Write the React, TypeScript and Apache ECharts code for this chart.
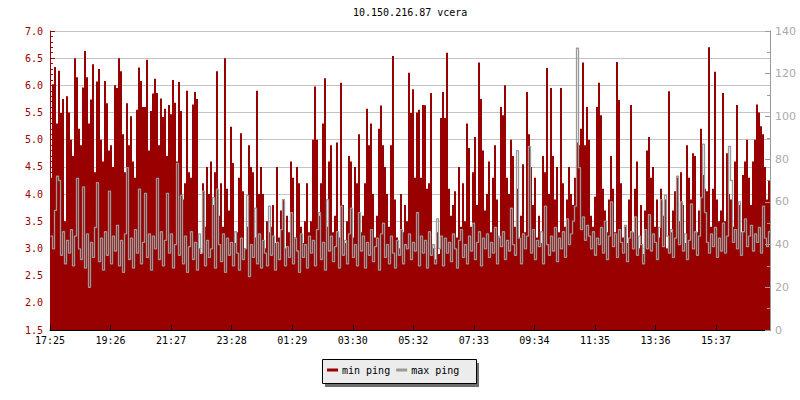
import { useEffect, useRef } from "react";
import * as echarts from "echarts";

const TITLE = "10.150.216.87 vcera";
const SERIES_NAMES = ["min ping", "max ping"];
const X_TICK_LABELS = ["17:25", "19:26", "21:27", "23:28", "01:29", "03:30", "05:32", "07:33", "09:34", "11:35", "13:36", "15:37"];
const STEP_MINUTES = 4;
const TICK_STEP_MINUTES = 121.1;

// left axis (1.5 – 7.0), one value every 4 minutes from 17:25
const MIN_PING = [
  4.3, 6.02, 6.34, 5.3, 6.27, 5.49, 5.75, 3.5, 5.8, 5.5,
  5.0, 4.7, 6.5, 6.15, 5.2, 4.9, 5.96, 6.63, 6.15, 5.3,
  5.74, 6.39, 4.4, 6.07, 6.3, 5.0, 4.6, 6.08, 5.67, 4.8,
  4.9, 4.5, 6.0, 5.95, 6.5, 6.26, 5.1, 4.4, 5.67, 4.9,
  5.43, 4.6, 4.3, 5.55, 6.33, 6.08, 5.6, 5.6, 6.47, 4.8,
  5.53, 5.85, 6.12, 5.86, 4.9, 5.76, 5.42, 5.57, 4.7, 5.64,
  5.47, 6.1, 5.68, 4.6, 6.06, 5.53, 3.9, 4.2, 5.9, 4.4,
  4.3, 5.65, 5.88, 5.75, 3.0, 2.9, 4.2, 3.4, 4.5, 4.0,
  4.6, 3.8, 4.4, 6.26, 3.6, 4.2, 3.4, 6.5, 4.1, 3.7,
  5.24, 4.57, 3.1, 3.3, 4.3, 5.12, 4.05, 3.0, 3.4, 4.9,
  4.5, 4.4, 3.2, 5.9, 4.0, 4.5, 4.0, 3.0, 3.5, 3.3,
  3.4, 3.8, 3.1, 4.5, 3.2, 3.7, 3.9, 3.0, 3.6, 3.3,
  4.6, 4.3, 3.2, 4.5, 4.2, 3.4, 3.1, 3.5, 4.2, 3.3,
  3.5, 5.0, 5.98, 5.0, 3.6, 4.2, 5.3, 6.13, 3.4, 4.6,
  4.9, 3.3, 3.6, 4.95, 3.2, 6.05, 3.8, 3.1, 3.5, 4.7,
  4.6, 3.2, 4.5, 4.2, 5.1, 3.3, 3.6, 4.2, 5.57, 4.9,
  5.3, 4.0, 3.2, 3.6, 5.2, 5.63, 4.9, 4.5, 4.0, 3.4,
  4.9, 6.54, 3.9, 3.2, 3.0, 4.0, 3.3, 3.8, 3.5, 6.23,
  5.49, 5.93, 4.3, 5.5, 5.55, 4.3, 5.64, 5.63, 4.1, 4.2,
  5.86, 3.0, 2.8, 3.3, 2.9, 5.4, 5.88, 5.4, 6.6, 4.1,
  3.6, 3.8, 4.05, 3.2, 4.5, 3.4, 4.2, 3.5, 5.3, 4.85,
  3.4, 4.4, 5.05, 3.8, 6.42, 5.75, 4.8, 3.7, 4.0, 4.6,
  3.3, 4.3, 4.9, 3.9, 3.2, 5.6, 5.45, 6.0, 4.3, 4.0,
  5.0, 4.7, 3.4, 4.1, 3.2, 3.6, 4.55, 3.3, 5.88, 5.1,
  4.5, 3.8, 4.3, 3.2, 3.6, 3.1, 4.7, 4.4, 6.32, 4.0,
  5.95, 4.7, 3.9, 4.5, 3.3, 5.95, 4.2, 3.4, 3.9, 4.5,
  4.0, 3.8, 4.3, 4.95, 4.9, 5.2, 6.42, 4.9, 5.6, 5.0,
  3.6, 3.4, 3.95, 5.6, 6.05, 5.45, 4.1, 3.7, 3.3, 3.9,
  4.7, 4.1, 3.3, 6.43, 5.73, 4.2, 3.2, 3.4, 3.1, 3.9,
  5.64, 3.3, 4.1, 4.6, 3.0, 3.8, 2.9, 3.7, 4.8, 5.05,
  4.3, 4.5, 3.4, 3.9, 3.2, 4.1, 3.6, 3.9, 3.0, 5.89,
  3.3, 3.7, 4.05, 4.3, 3.5, 4.4, 3.8, 3.1, 4.9, 4.3,
  3.9, 4.75, 4.7, 3.3, 3.7, 5.2, 4.35, 4.1, 4.05, 6.7,
  3.4, 4.1, 6.25, 3.9, 3.5, 3.7, 5.86, 3.5, 4.75, 4.0,
  3.9, 3.4, 4.6, 5.64, 3.8, 3.3, 4.35, 4.6, 5.0, 4.3,
  3.8, 4.6, 5.0, 5.65, 5.5, 5.25, 5.1, 4.5, 3.9, 4.25,
];

// right axis (0 – 140), same time steps
const MAX_PING = [
  44, 38, 56, 72, 70, 35, 46, 31, 42, 36,
  47, 30, 44, 71, 38, 33, 67, 29, 45, 20,
  41, 34, 48, 69, 32, 43, 28, 46, 35, 65,
  31, 44, 37, 49, 30, 42, 27, 45, 76, 33,
  43, 29, 47, 36, 66, 31, 41, 64, 34, 45,
  28, 44, 38, 71, 33, 46, 30, 42, 64, 36,
  45, 29, 40, 78, 35, 63, 31, 44, 27, 39,
  46, 33, 41, 28, 45, 36, 65, 30, 42, 34,
  38, 62, 29, 66, 40, 32, 45, 27, 43, 35,
  41, 30, 46, 36, 28, 43, 33, 38, 63, 25,
  40, 34, 57, 31, 45, 29, 42, 36, 30, 58,
  35, 44, 28, 41, 33, 47, 61, 30, 39, 34,
  55, 31, 43, 37, 27, 45, 34, 40, 29, 44,
  36, 42, 30, 47, 55, 33, 41, 28, 61, 37,
  44, 32, 39, 46, 29, 58, 35, 42, 31, 45,
  57, 34, 40, 30, 55, 37, 44, 29, 41, 35,
  47, 32, 39, 43, 28, 45, 50, 34, 40, 31,
  44, 36, 29, 42, 35, 47, 31, 40, 38, 45,
  33, 41, 37, 55, 30, 44, 36, 42, 29, 46,
  35, 40, 31, 52, 38, 44, 30, 43, 36, 41,
  32, 45, 38, 29, 42, 47, 34, 40, 31, 44,
  37, 50, 33, 41, 46, 30, 43, 38, 45, 34,
  41, 36, 48, 31, 44, 39, 46, 33, 42, 37,
  57, 40, 35, 84, 43, 31, 45, 38, 44, 86,
  36, 47, 33, 42, 39, 46, 31, 58, 40, 35,
  44, 37, 48, 32, 43, 38, 46, 34, 52, 40,
  45, 51, 58, 132, 76, 47, 53, 42, 49, 44,
  38, 46, 35, 43, 40, 48, 36, 51, 33, 44,
  60, 39, 45, 34, 47, 41, 36, 49, 32, 43,
  46, 38, 53, 35, 44, 40, 31, 47, 38, 54,
  37, 45, 41, 33, 48, 61, 39, 63, 44, 36,
  47, 34, 43, 72, 40, 60, 37, 45, 33, 42,
  59, 38, 46, 35, 44, 62, 87, 55, 41, 36,
  45, 39, 48, 34, 43, 37, 50, 36, 44, 86,
  70, 41, 47, 38, 60, 35, 46, 52, 39, 44,
  49, 37, 45, 41, 48, 36, 58, 43, 39, 46,
];

const MONO = "DejaVu Sans Mono";
const RED = "#990000";
const GREY = "#9a9a9a";

export default function App() {
  const ref = useRef<HTMLDivElement>(null);
  useEffect(() => {
    const chart = echarts.init(ref.current!, null, { renderer: "svg" });
    // offset (minutes) places each sample's step edge on a pixel centre
    const toSteps = (arr: number[], offset: number) => {
      const d = arr.map((v, i) => [i * STEP_MINUTES + offset, v]);
      d.push([arr.length * STEP_MINUTES, arr[arr.length - 1]]);
      return d;
    };
    const minData = toSteps(MIN_PING, 0);
    const maxData = toSteps(MAX_PING, 1);
    const xMax = MIN_PING.length * STEP_MINUTES;
    const tickValues = X_TICK_LABELS.map((_, i) => i * TICK_STEP_MINUTES);
    chart.setOption({
      animation: false,
      backgroundColor: "#ffffff",
      title: {
        text: TITLE,
        left: 353,
        top: 7,
        padding: 0,
        textStyle: { fontFamily: MONO, fontSize: 10, fontWeight: "normal", color: "#000" },
      },
      grid: { left: 50, right: 30, top: 31, bottom: 70 },
      legend: {
        data: SERIES_NAMES,
        left: 327,
        top: 365,
        padding: 0,
        itemWidth: 11,
        itemHeight: 3,
        itemGap: 6,
        icon: "rect",
        z: 10,
        textStyle: { fontFamily: MONO, fontSize: 10, color: "#000", padding: [0, 0, 0, -1] },
      },
      graphic: [
        { type: "rect", z: 1, shape: { x: 325, y: 363, width: 154, height: 24 }, style: { fill: "#6e6e6e" } },
        { type: "rect", z: 2, shape: { x: 322.5, y: 359.5, width: 154, height: 24 }, style: { fill: "#ececec", stroke: "#000", lineWidth: 1 } },
      ],
      xAxis: {
        type: "value",
        min: 0,
        max: xMax,
        z: 10,
        axisLine: { show: true, lineStyle: { color: "#000", width: 1 } },
        axisTick: { show: true, inside: true, length: 5, customValues: tickValues, lineStyle: { color: "#000" } },
        axisLabel: {
          customValues: tickValues,
          formatter: (v: number) => X_TICK_LABELS[Math.round(v / TICK_STEP_MINUTES)] ?? "",
          color: "#000",
          fontFamily: MONO,
          fontSize: 10,
          margin: 5,
        },
        splitLine: { show: false },
      },
      yAxis: [
        {
          type: "value",
          min: 1.5,
          max: 7,
          interval: 0.5,
          position: "left",
          axisLine: { show: true, lineStyle: { color: RED } },
          axisTick: { show: true, inside: true, length: 5, lineStyle: { color: RED } },
          minorTick: { show: true, splitNumber: 5, length: 3, lineStyle: { color: RED } },
          axisLabel: { color: RED, fontFamily: MONO, fontSize: 10, margin: 7, formatter: (v: number) => v.toFixed(1) },
          splitLine: { show: true, lineStyle: { color: "#c4c4c4", width: 1 } },
        },
        {
          type: "value",
          min: 0,
          max: 140,
          interval: 20,
          position: "right",
          z: 10,
          axisLine: { show: true, lineStyle: { color: GREY } },
          axisTick: { show: true, inside: true, length: 5, lineStyle: { color: GREY } },
          minorTick: { show: true, splitNumber: 2, length: 3, lineStyle: { color: GREY } },
          axisLabel: { color: "#aaaaaa", fontFamily: "DejaVu Sans", fontSize: 11, margin: 5 },
          splitLine: { show: false },
        },
      ],
      series: [
        {
          name: SERIES_NAMES[0],
          type: "line",
          yAxisIndex: 0,
          step: "end",
          data: minData,
          color: RED,
          symbol: "none",
          lineStyle: { width: 0, color: RED },
          areaStyle: { color: RED, opacity: 1, origin: "start" },
        },
        {
          name: SERIES_NAMES[1],
          type: "line",
          yAxisIndex: 1,
          step: "end",
          data: maxData,
          color: GREY,
          symbol: "none",
          lineStyle: { width: 1.3, color: GREY },
        },
      ],
    });
    return () => chart.dispose();
  }, []);
  return <div ref={ref} style={{ position: "fixed", left: 0, top: 0, width: 800, height: 400 }} />;
}
